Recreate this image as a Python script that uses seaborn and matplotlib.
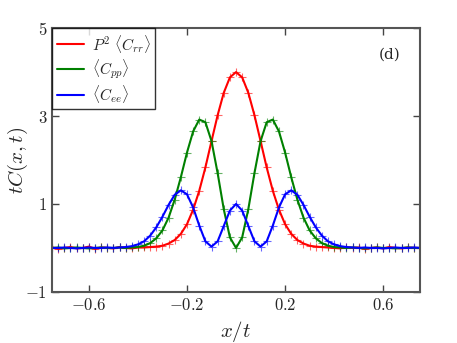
import numpy as np
import pandas as pd
import matplotlib
matplotlib.use('Agg')
import matplotlib.pyplot as plt
import seaborn as sns

# x/t grid (61 points, step 0.025)
x_vals = np.linspace(-0.75, 0.75, 61)

# values, x from -0.75 to 0.75
red_vals = [0.01, -0.02, 0.00, 0.02, -0.01, 0.00, 0.03, -0.02, 0.01, 0.00,
            -0.01, 0.02, 0.00, -0.01, 0.01, 0.01, 0.02, 0.03, 0.05, 0.10,
            0.18, 0.32, 0.54, 0.87, 1.30, 1.83, 2.43, 3.02, 3.53, 3.88,
            4.00,
            3.88, 3.53, 3.02, 2.43, 1.83, 1.30, 0.87, 0.54, 0.32, 0.18,
            0.10, 0.05, 0.03, 0.02, 0.01, 0.00, -0.01, 0.02, 0.00, 0.01,
            -0.02, 0.00, 0.01, -0.01, 0.02, 0.00, -0.01, 0.01, 0.00, 0.00]
green_vals = [0.00, 0.01, -0.01, 0.00, 0.01, 0.00, -0.01, 0.00, 0.01, 0.00,
              0.00, 0.01, 0.00, 0.01, 0.02, 0.05, 0.11, 0.22, 0.40, 0.69,
              1.10, 1.61, 2.17, 2.65, 2.92, 2.86, 2.43, 1.70, 0.88, 0.24,
              0.00,
              0.24, 0.88, 1.70, 2.43, 2.86, 2.92, 2.65, 2.17, 1.61, 1.10,
              0.69, 0.40, 0.22, 0.11, 0.05, 0.02, 0.01, 0.00, 0.01, 0.00,
              -0.01, 0.00, 0.01, 0.00, 0.00, -0.01, 0.00, 0.01, 0.00, 0.00]
blue_vals = [0.00, 0.00, 0.01, 0.00, -0.01, 0.00, 0.01, 0.00, 0.00, 0.01,
             0.00, 0.01, 0.02, 0.04, 0.08, 0.15, 0.28, 0.47, 0.71, 0.98,
             1.21, 1.31, 1.22, 0.92, 0.51, 0.15, 0.03, 0.15, 0.50, 0.85,
             1.00,
             0.85, 0.50, 0.15, 0.03, 0.15, 0.51, 0.92, 1.22, 1.31, 1.21,
             0.98, 0.71, 0.47, 0.28, 0.15, 0.08, 0.04, 0.02, 0.01, 0.00,
             0.01, 0.00, 0.00, -0.01, 0.00, 0.01, 0.00, 0.00, 0.01, 0.00]

labels = [r'$P^2\ \langle C_{rr}\rangle$', r'$\langle C_{pp}\rangle$', r'$\langle C_{ee}\rangle$']
colors = ['#ff0000', '#008000', '#0000ff']
xticks = [-0.6, -0.2, 0.2, 0.6]
yticks = [-1, 1, 3, 5]

sns.set_style('ticks', {'xtick.direction': 'in', 'ytick.direction': 'in'})
plt.rcParams['mathtext.fontset'] = 'cm'
plt.rcParams['font.family'] = ['DejaVu Serif']

fig, ax = plt.subplots(figsize=(4.57, 3.43), dpi=100)
fig.subplots_adjust(left=0.114, right=0.919, bottom=0.149, top=0.918)

for vals, lab, col in zip([red_vals, green_vals, blue_vals], labels, colors):
    df = pd.DataFrame({'x': x_vals, 'y': vals})
    sns.lineplot(data=df, x='x', y='y', color=col, lw=1.5, label=lab, ax=ax)
    sns.scatterplot(data=df, x='x', y='y', color=col, marker='+', s=30,
                    linewidth=0.8, alpha=0.6, ax=ax, legend=False)

ax.set_xlim(-0.75, 0.75)
ax.set_ylim(-1, 5)
ax.set_xticks(xticks)
ax.set_yticks(yticks)
ax.set_xticklabels([r'$%.1f$' % t for t in xticks], fontsize=12)
ax.set_yticklabels([r'$%d$' % t for t in yticks], fontsize=12)
ax.tick_params(top=True, right=True, length=5, width=1, color='#444444')
for sp in ax.spines.values():
    sp.set_color('#555555')
    sp.set_linewidth(1.5)

ax.set_xlabel(r'$x/t$', fontsize=15)
ax.set_ylabel(r'$tC(x,t)$', fontsize=15)
ax.yaxis.set_label_coords(-0.06, 0.5)
ax.text(0.918, 0.898, '(d)', transform=ax.transAxes, fontsize=11,
        ha='center', va='center')

leg = ax.legend(loc='upper left', fontsize=11, fancybox=False, borderaxespad=0.0,
                handlelength=1.8, handletextpad=0.5, labelspacing=0.15, borderpad=0.3)
leg.get_frame().set_edgecolor('black')
leg.get_frame().set_linewidth(1.0)

fig.savefig('out.png', dpi=100)
